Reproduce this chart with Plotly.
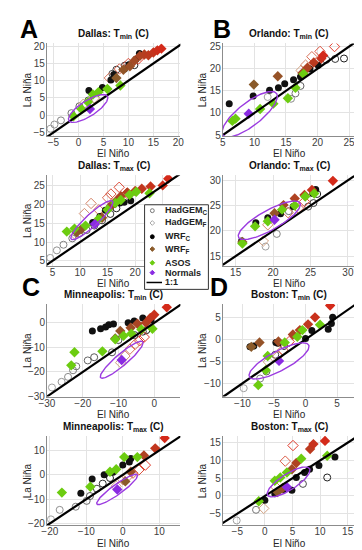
import numpy as np
import plotly.graph_objects as go

# ---------------- data (x = El Niño, y = La Niña) ----------------
DAL_TMIN_HADC = [(-5.6,-3.9),(-4.8,-2.7),(-3.5,-1.5),(-1.4,0.6),(0.2,2.6),(2.0,4.3),(6.8,12.0),(7.6,13.2),(9.3,14.4),(11.2,14.5)]
DAL_TMIN_HADF = [(1.0,3.2),(3.2,5.0),(6.2,10.8),(8.2,13.4),(10.0,15.0),(12.0,16.3)]
DAL_TMIN_WRFC = [(2.1,7.2),(4.8,8.0),(6.5,10.2),(7.1,11.8),(9.2,13.4),(10.1,14.6),(11.5,16.2),(12.2,17.9)]
DAL_TMIN_WRFF = [(7.6,10.8),(9.0,13.2),(10.3,14.2),(11.2,15.8),(12.3,17.2),(13.2,17.6),(14.0,17.4),(15.0,18.2),(15.8,18.8),(16.6,19.3)]
DAL_TMIN_ASOS = [(-1.0,-0.3),(0.6,1.8),(1.9,3.8),(2.9,6.0),(4.0,6.7),(5.8,7.6),(8.4,8.6)]
DAL_TMIN_NORM = [(2.3,1.8)]

DAL_TMAX_HADC = [(4.6,5.8),(5.8,7.8),(7.0,9.3),(8.6,11.0),(9.9,12.4),(11.2,13.2),(12.6,14.4),(14.0,15.8),(15.5,17.5),(16.6,19.0)]
DAL_TMAX_HADF = [(9.0,12.2),(10.8,17.6),(12.0,20.3),(13.4,18.6),(15.0,21.8),(15.6,22.8),(17.1,24.6),(18.5,23.0)]
DAL_TMAX_WRFC = [(12.3,15.2),(13.6,16.8),(14.6,18.5),(15.6,19.6),(16.2,20.1),(17.2,20.4),(18.0,20.6),(19.2,21.0)]
DAL_TMAX_WRFF = [(9.4,12.6),(10.2,13.4),(14.0,16.5),(15.6,19.6),(16.6,21.0),(17.4,22.2),(18.6,23.2),(20.0,23.6),(21.2,24.2),(22.8,24.8),(25.0,25.1),(26.0,26.9)]
DAL_TMAX_ASOS = [(7.6,12.8),(9.0,13.6),(11.0,14.4),(13.4,16.2),(15.0,18.6),(16.4,20.4),(17.4,21.2),(19.0,22.6),(20.2,23.4),(22.6,23.0)]
DAL_TMAX_NORM = [(12.7,14.8)]

ORL_TMIN_HADC = [(12.1,13.6),(15.8,13.2),(16.5,14.4),(17.3,16.1),(21.4,22.0),(22.8,22.2),(24.2,22.3)]
ORL_TMIN_HADF = [(17.4,19.6),(18.1,20.8),(19.1,22.7),(20.4,23.9),(22.7,25.0)]
ORL_TMIN_WRFC = [(6.0,12.1),(9.8,13.8),(12.4,15.1),(13.8,15.7),(14.8,16.6),(16.2,17.5),(17.3,18.2),(18.8,19.9),(20.1,20.8)]
ORL_TMIN_WRFF = [(9.9,16.4),(13.7,18.3),(17.6,19.0),(18.4,20.2),(19.4,21.4),(20.6,22.3),(20.9,23.0)]
ORL_TMIN_ASOS = [(6.5,8.2),(7.0,8.7),(10.9,10.9),(13.0,12.1),(15.3,13.3),(16.5,15.7),(17.8,18.8)]
ORL_TMIN_NORM = [(9.1,9.8)]

ORL_TMAX_HADC = [(19.0,16.9),(20.5,19.4),(22.1,23.9),(24.7,24.8),(25.4,25.5),(25.9,27.3)]
ORL_TMAX_HADF = [(18.7,18.0),(19.3,21.2),(22.0,23.6),(23.4,24.5),(24.2,25.8)]
ORL_TMAX_WRFC = [(15.8,18.0),(17.7,21.6),(19.3,22.6),(21.0,23.4),(22.7,24.8),(25.3,27.4),(25.7,28.2)]
ORL_TMAX_WRFF = [(15.9,17.8),(20.2,23.5),(21.4,25.1),(22.9,26.4),(24.2,27.1),(25.2,28.1),(28.0,29.9)]
ORL_TMAX_ASOS = [(15.9,17.5),(17.6,20.9),(19.3,21.9),(21.2,24.2),(22.9,25.0),(24.3,26.8),(25.5,27.4)]
ORL_TMAX_NORM = [(20.2,22.2)]

MSP_TMIN_HADC = [(-28.6,-26.3),(-25.9,-24.0),(-24.1,-22.0),(-22.7,-19.3),(-21.8,-17.7),(-18.6,-15.3),(-16.8,-14.0),(-11.8,-12.0),(-10.0,-7.0),(-5.5,-5.0),(-3.2,-3.6),(-2.2,-3.0)]
MSP_TMIN_HADF = [(-9.4,-16.2),(-8.2,-13.5),(-6.8,-10.7),(-5.4,-8.8),(-4.1,-7.3),(-2.8,-5.8)]
MSP_TMIN_WRFC = [(-17.3,-3.3),(-15.0,-2.4),(-13.6,-1.7),(-12.7,-0.8),(-11.4,-0.5),(-7.3,0.0),(-5.6,0.7),(-3.2,2.0),(-0.9,1.1)]
MSP_TMIN_WRFF = [(-10.9,-6.4),(-9.5,-3.3),(-6.6,-2.0),(-4.7,-0.4),(-2.3,0.0),(-1.1,2.0),(0.0,3.3),(3.5,6.3)]
MSP_TMIN_ASOS = [(-23.2,-17.3),(-22.3,-12.0),(-14.5,-11.6),(-10.9,-6.7),(-8.6,-5.3),(-6.4,-4.4),(-3.6,-2.7),(-0.5,-2.4)]
MSP_TMIN_NORM = [(-9.1,-15.1)]

BOS_TMIN_HADC = [(-9.8,-11.1),(-7.2,-8.9),(-6.2,-7.3),(-4.8,-3.5),(-3.4,-1.5)]
BOS_TMIN_HADF = [(-5.9,-5.1),(-4.4,-3.8),(-3.6,-2.4),(-2.6,-0.5)]
BOS_TMIN_WRFC = [(-8.8,-1.7),(-8.2,-1.5),(-4.7,-0.7),(-4.4,-0.9),(0.0,0.2),(1.0,2.0),(3.6,2.3),(4.1,3.6),(4.3,5.0)]
BOS_TMIN_WRFF = [(-8.6,-1.7),(-7.3,-0.7),(-4.3,-0.5),(-2.0,1.1),(-0.9,2.1),(0.4,3.4),(1.5,5.0),(3.9,7.7)]
BOS_TMIN_ASOS = [(-7.5,-10.4),(-6.3,-7.0),(-6.0,-3.8),(-3.3,-0.7),(-1.3,0.6),(-0.5,2.1),(2.3,3.3)]
BOS_TMIN_NORM = [(-4.2,-4.9)]

MSP_TMAX_HADC = [(-19.7,-18.3),(-17.3,-14.4),(-12.9,-13.1),(-9.9,-10.7),(-9.0,-8.7),(-7.1,-5.7),(-5.5,-3.6),(-3.5,-1.3)]
MSP_TMAX_HADF = [(-1.8,-4.7),(0.0,-2.0),(1.3,-0.8),(2.8,0.7),(4.4,2.0),(6.2,4.0)]
MSP_TMAX_WRFC = [(-11.5,-7.6),(-8.4,-1.7),(-5.1,0.0),(-2.7,1.1),(0.0,4.0),(1.8,5.3),(2.2,6.7)]
MSP_TMAX_WRFF = [(0.7,-2.7),(2.2,1.3),(5.8,8.0),(8.9,10.9),(11.5,15.1)]
MSP_TMAX_ASOS = [(-16.7,-7.3),(-8.9,-4.9),(-3.5,1.3),(-1.8,2.3),(0.4,7.3),(4.0,7.3)]
MSP_TMAX_NORM = [(-1.5,-6.0)]

BOS_TMAX_HADC = [(-5.1,-6.9),(-1.6,-3.9),(6.9,3.4),(11.3,5.2)]
BOS_TMAX_HADF = [(-0.2,-3.5),(2.0,2.5),(3.7,9.8),(5.1,14.2)]
BOS_TMAX_WRFC = [(0.0,-1.2),(1.8,0.6),(3.4,1.8),(4.9,1.6),(5.7,5.2),(7.2,6.6),(8.1,7.5),(9.8,8.6),(12.7,11.0)]
BOS_TMAX_WRFF = [(2.3,1.1),(3.2,2.2),(4.9,7.5),(5.7,9.3),(8.2,13.2),(8.8,14.6),(10.9,15.5)]
BOS_TMAX_ASOS = [(-1.1,-1.5),(1.8,4.3),(2.8,5.2),(4.0,6.6),(6.6,10.5),(11.3,11.3)]
BOS_TMAX_NORM = [(4.0,2.5)]

# ellipses: centre, half major-axis vector (data units), minor/major ratio
DAL_TMIN_ELL = ((1.95, 1.95), (3.85, 3.55), 0.34)
DAL_TMAX_ELL = ((12.15, 15.85), (3.75, 5.05), 0.22)
ORL_TMIN_ELL = ((9.25, 9.7), (4.25, 4.7), 0.34)
ORL_TMAX_ELL = ((19.5, 22.1), (4.1, 3.4), 0.28)
MSP_TMIN_ELL = ((-9.1, -15.0), (5.9, 7.3), 0.21)
BOS_TMIN_ELL = ((-4.2, -4.9), (4.7, 3.6), 0.29)
MSP_TMAX_ELL = ((-1.55, -6.0), (5.55, 6.0), 0.2)
BOS_TMAX_ELL = ((4.3, 3.95), (3.8, 3.75), 0.32)

TITLES = ["Dallas: T<sub>min</sub> (C)", "Orlando: T<sub>min</sub> (C)",
          "Dallas: T<sub>max</sub> (C)", "Orlando: T<sub>max</sub> (C)",
          "Minneapolis: T<sub>min</sub> (C)", "Boston: T<sub>min</sub> (C)",
          "Minneapolis: T<sub>max</sub> (C)", "Boston: T<sub>max</sub> (C)"]
X_RANGES = [[-6.3, 20.4], [5, 26], [4, 28.2], [13.3, 31], [-30, 7.3], [-13.1, 7.9], [-20.8, 15.8], [-7.6, 16.4]]
Y_RANGES = [[-6, 20.8], [4.8, 25.7], [3.7, 27.8], [13.1, 31], [-30, 7.6], [-13, 8], [-20.8, 16], [-8.3, 16.9]]
DTICKS = [5, 5, 5, 5, 10, 5, 10, 5]
X_LABEL = "El Niño"
Y_LABEL = "La Niña"
LEGEND_LABELS = ["HadGEM<sub>C</sub>", "HadGEM<sub>F</sub>", "WRF<sub>C</sub>", "WRF<sub>F</sub>", "ASOS", "Normals", "1:1"]
PANEL_LETTERS = ["A", "B", "C", "D"]

PANELS = [
    (DAL_TMIN_HADC, DAL_TMIN_HADF, DAL_TMIN_WRFC, DAL_TMIN_WRFF, DAL_TMIN_ASOS, DAL_TMIN_NORM, DAL_TMIN_ELL),
    (ORL_TMIN_HADC, ORL_TMIN_HADF, ORL_TMIN_WRFC, ORL_TMIN_WRFF, ORL_TMIN_ASOS, ORL_TMIN_NORM, ORL_TMIN_ELL),
    (DAL_TMAX_HADC, DAL_TMAX_HADF, DAL_TMAX_WRFC, DAL_TMAX_WRFF, DAL_TMAX_ASOS, DAL_TMAX_NORM, DAL_TMAX_ELL),
    (ORL_TMAX_HADC, ORL_TMAX_HADF, ORL_TMAX_WRFC, ORL_TMAX_WRFF, ORL_TMAX_ASOS, ORL_TMAX_NORM, ORL_TMAX_ELL),
    (MSP_TMIN_HADC, MSP_TMIN_HADF, MSP_TMIN_WRFC, MSP_TMIN_WRFF, MSP_TMIN_ASOS, MSP_TMIN_NORM, MSP_TMIN_ELL),
    (BOS_TMIN_HADC, BOS_TMIN_HADF, BOS_TMIN_WRFC, BOS_TMIN_WRFF, BOS_TMIN_ASOS, BOS_TMIN_NORM, BOS_TMIN_ELL),
    (MSP_TMAX_HADC, MSP_TMAX_HADF, MSP_TMAX_WRFC, MSP_TMAX_WRFF, MSP_TMAX_ASOS, MSP_TMAX_NORM, MSP_TMAX_ELL),
    (BOS_TMAX_HADC, BOS_TMAX_HADF, BOS_TMAX_WRFC, BOS_TMAX_WRFF, BOS_TMAX_ASOS, BOS_TMAX_NORM, BOS_TMAX_ELL),
]

# ---------------- layout geometry ----------------
W, H = 362, 550
COLS_PX = [(32, 170), (214, 351)]
ROWS_PX = [(33, 127), (167, 259), (298, 392), (432, 523)]
YLABEL_X = [12, 193]
FONT = "Liberation Sans, Arial, sans-serif"


def px_x(p):
    return p / W


def px_y(p):
    return 1 - p / H


def hexlerp(c0, c1, n):
    a = np.array([int(c0[i:i + 2], 16) for i in (1, 3, 5)], float)
    b = np.array([int(c1[i:i + 2], 16) for i in (1, 3, 5)], float)
    out = []
    for k in range(n):
        t = k / max(n - 1, 1)
        c = a + (b - a) * t
        out.append("#%02x%02x%02x" % tuple(int(round(v)) for v in c))
    return out


fig = go.Figure()
layout = dict(width=W, height=H, margin=dict(l=0, r=0, t=0, b=0),
              paper_bgcolor="white", plot_bgcolor="white", showlegend=False,
              font=dict(family=FONT, size=10, color="#262626"))
annotations = []
shapes = []


def xy(pts):
    return [p[0] for p in pts], [p[1] for p in pts]


for i, (hadc, hadf, wrfc, wrff, asos, norm, ell) in enumerate(PANELS):
    n = i + 1
    row, col = i // 2, i % 2
    x0p, x1p = COLS_PX[col]
    t_px, b_px = ROWS_PX[row]
    xa = "xaxis" if n == 1 else "xaxis%d" % n
    ya = "yaxis" if n == 1 else "yaxis%d" % n
    xr, yr = ("x", "y") if n == 1 else ("x%d" % n, "y%d" % n)
    axcommon = dict(showgrid=True, gridcolor="#e3e3e3", gridwidth=1, zeroline=False,
                    showline=True, linecolor="#8c8c8c", linewidth=1, mirror=False,
                    ticks="", tickfont=dict(size=10, color="#404040", family=FONT),
                    dtick=DTICKS[i], tick0=0)
    layout[xa] = dict(axcommon, domain=[px_x(x0p), px_x(x1p)], range=X_RANGES[i], anchor=yr,
                      ticklabelstandoff=-3)
    layout[ya] = dict(axcommon, domain=[px_y(b_px), px_y(t_px)], range=Y_RANGES[i], anchor=xr,
                      ticklabelstandoff=-1)

    hx, hy = xy(hadc)
    fig.add_trace(go.Scatter(x=hx, y=hy, mode="markers", xaxis=xr, yaxis=yr,
                             marker=dict(symbol="circle-open", size=7, color=hexlerp("#a0a0a0", "#202020", len(hx)),
                                         line=dict(width=1))))
    fx, fy = xy(hadf)
    fig.add_trace(go.Scatter(x=fx, y=fy, mode="markers", xaxis=xr, yaxis=yr,
                             marker=dict(symbol="diamond-open", size=8, color=hexlerp("#d0a080", "#e03a2a", len(fx)),
                                         line=dict(width=1))))
    cx_, cy_ = xy(wrfc)
    fig.add_trace(go.Scatter(x=cx_, y=cy_, mode="markers", xaxis=xr, yaxis=yr,
                             marker=dict(symbol="circle", size=7, color="#111111", line=dict(width=0))))
    wx, wy = xy(wrff)
    fig.add_trace(go.Scatter(x=wx, y=wy, mode="markers", xaxis=xr, yaxis=yr,
                             marker=dict(symbol="diamond", size=8, color=hexlerp("#8a5a2a", "#d42a1a", len(wx)),
                                         line=dict(width=0))))
    ax_, ay_ = xy(asos)
    fig.add_trace(go.Scatter(x=ax_, y=ay_, mode="markers", xaxis=xr, yaxis=yr,
                             marker=dict(symbol="diamond", size=8, color="#6ccc10", line=dict(width=0))))
    nx, ny = xy(norm)
    fig.add_trace(go.Scatter(x=nx, y=ny, mode="markers", xaxis=xr, yaxis=yr,
                             marker=dict(symbol="diamond", size=8, color="#8a2be2", line=dict(width=0))))
    # 1:1 line
    lo = min(X_RANGES[i][0], Y_RANGES[i][0])
    hi = max(X_RANGES[i][1], Y_RANGES[i][1])
    fig.add_trace(go.Scatter(x=[lo, hi], y=[lo, hi], mode="lines", xaxis=xr, yaxis=yr,
                             line=dict(color="black", width=2.2)))
    # ellipse
    (ecx, ecy), (ux, uy), ratio = ell
    sx = (x1p - x0p) / (X_RANGES[i][1] - X_RANGES[i][0])
    sy = (b_px - t_px) / (Y_RANGES[i][1] - Y_RANGES[i][0])
    upx, upy = ux * sx, uy * sy
    vx, vy = -upy * ratio / sx, upx * ratio / sy
    tt = np.linspace(0, 2 * np.pi, 120)
    ex = ecx + ux * np.cos(tt) + vx * np.sin(tt)
    ey = ecy + uy * np.cos(tt) + vy * np.sin(tt)
    fig.add_trace(go.Scatter(x=ex, y=ey, mode="lines", xaxis=xr, yaxis=yr,
                             line=dict(color="#9b3be0", width=1.4)))

    # title
    annotations.append(dict(text="<b>" + TITLES[i] + "</b>", xref="paper", yref="paper",
                            x=px_x((x0p + x1p) / 2), y=px_y(t_px - 1), xanchor="center", yanchor="bottom",
                            showarrow=False, font=dict(size=10, color="#111", family=FONT)))
    # x-axis label
    annotations.append(dict(text=X_LABEL, xref="paper", yref="paper",
                            x=px_x((x0p + x1p) / 2), y=px_y(b_px + 18), xanchor="center", yanchor="middle",
                            showarrow=False, font=dict(size=10, color="#262626", family=FONT)))
    # y-axis label (the one of panel 4 is hidden behind the legend in the original)
    if i != 3:
        annotations.append(dict(text=Y_LABEL, xref="paper", yref="paper", textangle=-90,
                                x=px_x(YLABEL_X[col]), y=px_y((t_px + b_px) / 2), xanchor="center",
                                yanchor="middle", showarrow=False,
                                font=dict(size=10, color="#262626", family=FONT)))

# panel letters
for k, (lx, ly) in enumerate([(13.5, 18.5), (213, 18.5), (15, 281), (210, 281)]):
    annotations.append(dict(text="<b>" + PANEL_LETTERS[k] + "</b>", xref="paper", yref="paper",
                            x=px_x(lx), y=px_y(ly), xanchor="center", yanchor="middle",
                            showarrow=False, font=dict(size=25, color="black", family=FONT)))

# legend box
shapes.append(dict(type="rect", xref="paper", yref="paper", x0=px_x(133), x1=px_x(199),
                   y0=px_y(283), y1=px_y(197), fillcolor="white", line=dict(color="#333", width=1), layer="above"))
LEG_Y = [203, 215.5, 229.5, 242, 256, 266, 276]
sym_x = 141
r = 2.0
for k, ly in enumerate(LEG_Y):
    if k in (0, 2):
        shapes.append(dict(type="circle", xref="paper", yref="paper",
                           x0=px_x(sym_x - r), x1=px_x(sym_x + r), y0=px_y(ly + r), y1=px_y(ly - r),
                           fillcolor="white" if k == 0 else "black",
                           line=dict(color="#777" if k == 0 else "black", width=1), layer="above"))
    elif k in (1, 3, 4, 5):
        col_ = {1: "white", 3: "#8a5a2a", 4: "#6ccc10", 5: "#8a2be2"}[k]
        lc = {1: "#aaaaaa", 3: "#8a5a2a", 4: "#6ccc10", 5: "#8a2be2"}[k]
        d = 2.4
        path = "M %f %f L %f %f L %f %f L %f %f Z" % (
            px_x(sym_x), px_y(ly - d), px_x(sym_x + d), px_y(ly),
            px_x(sym_x), px_y(ly + d), px_x(sym_x - d), px_y(ly))
        shapes.append(dict(type="path", xref="paper", yref="paper", path=path,
                           fillcolor=col_, line=dict(color=lc, width=1), layer="above"))
    else:
        shapes.append(dict(type="line", xref="paper", yref="paper", x0=px_x(135), x1=px_x(151),
                           y0=px_y(ly), y1=px_y(ly), line=dict(color="black", width=1.5), layer="above"))
    annotations.append(dict(text="<b>" + LEGEND_LABELS[k] + "</b>", xref="paper", yref="paper",
                            x=px_x(152), y=px_y(ly), xanchor="left", yanchor="middle",
                            showarrow=False, font=dict(size=9, color="#222", family=FONT)))

layout["annotations"] = annotations
layout["shapes"] = shapes
fig.update_layout(**layout)
fig.write_html("out.html")
